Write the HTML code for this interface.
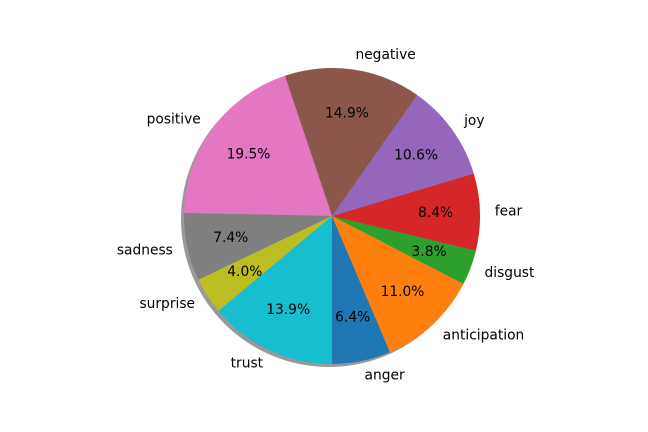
<!DOCTYPE html>
<html><head><meta charset="utf-8"><style>
body{margin:0;background:#fff}
svg{display:block;font-family:"DejaVu Sans","Liberation Sans",sans-serif;font-size:13.8px}
</style></head><body>
<svg id="chart" width="648" height="432" viewBox="0 0 648 432">
<g id="shadow"></g>
<g id="slices"></g>
<g id="labels"></g>
</svg>
<script>
const categories=["anger","anticipation","disgust","fear","joy","negative","positive","sadness","surprise","trust"];
const values=[6.4,11.0,3.8,8.4,10.6,14.9,19.5,7.4,4.0,13.9];
const colors=["#1f77b4","#ff7f0e","#2ca02c","#d62728","#9467bd","#8c564b","#e377c2","#7f7f7f","#bcbd22","#17becf"];
const cx=332,cy=216,R=148,start=270;
const NS="http://www.w3.org/2000/svg";
const total=values.reduce((a,b)=>a+b,0);
function pt(deg,r,ox,oy){const a=deg*Math.PI/180;return[cx+(ox||0)+r*Math.cos(a),cy+(oy||0)-r*Math.sin(a)];}
function arc(a0,a1,ox,oy){const p0=pt(a0,R,ox,oy),p1=pt(a1,R,ox,oy);const large=(a1-a0)>180?1:0;
return `M${cx+ox},${cy+oy}L${p0[0]},${p0[1]}A${R},${R} 0 ${large} 0 ${p1[0]},${p1[1]}Z`;}
const sh=document.createElementNS(NS,"circle");
sh.setAttribute("cx",cx-3);sh.setAttribute("cy",cy+3);sh.setAttribute("r",R);
sh.setAttribute("fill","#000");sh.setAttribute("fill-opacity","0.4");


document.getElementById("shadow").appendChild(sh);
let ang=start;
values.forEach((v,i)=>{
  const span=v/total*360,a0=ang,a1=ang+span,mid=(a0+a1)/2;ang=a1;
  const p=document.createElementNS(NS,"path");
  p.setAttribute("d",arc(a0,a1,0,0));p.setAttribute("fill",colors[i]);
  
  
  document.getElementById("slices").appendChild(p);
  const lp=pt(mid,R*1.1);
  const t=document.createElementNS(NS,"text");
  t.setAttribute("x",lp[0]);t.setAttribute("y",lp[1]);
  t.setAttribute("dominant-baseline","central");
  t.setAttribute("text-anchor",Math.cos(mid*Math.PI/180)>0?"start":"end");
  t.textContent=categories[i];
  
  
  document.getElementById("labels").appendChild(t);
  const pp=pt(mid,R*0.7);
  const t2=document.createElementNS(NS,"text");
  t2.setAttribute("x",pp[0]);t2.setAttribute("y",pp[1]);
  t2.setAttribute("dominant-baseline","central");t2.setAttribute("text-anchor","middle");
  t2.textContent=v.toFixed(1)+"%";
  
  
  document.getElementById("labels").appendChild(t2);
});
</script>
</body></html>
